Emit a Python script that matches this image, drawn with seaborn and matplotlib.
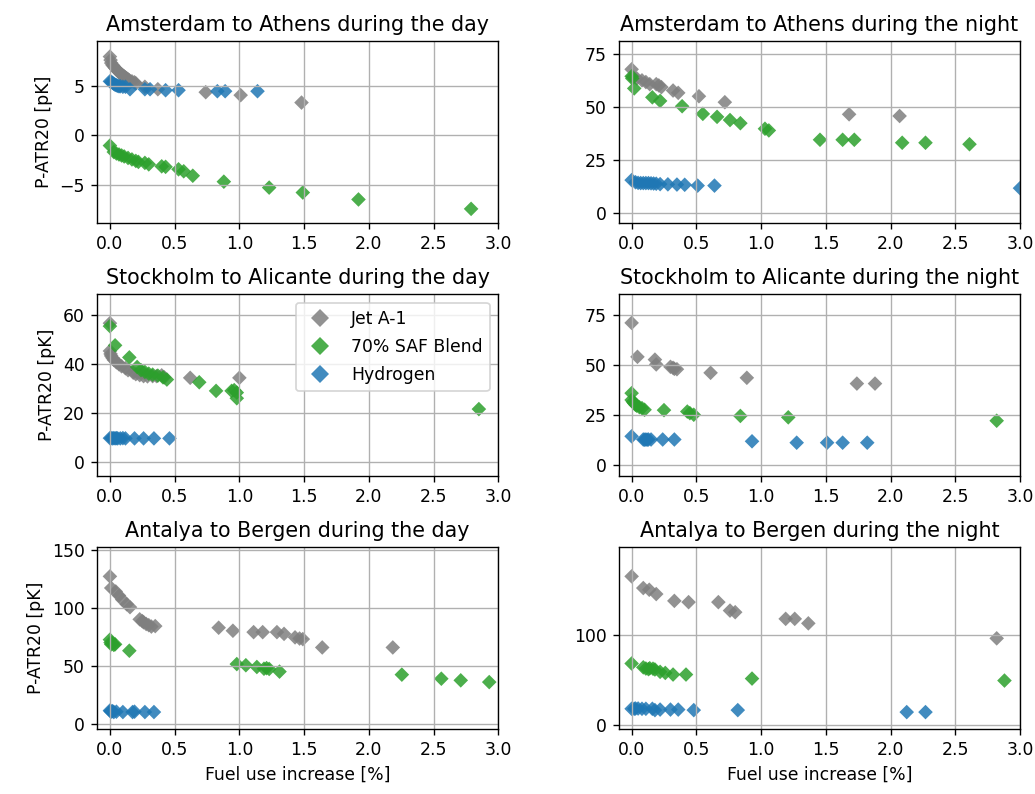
import numpy as np
import pandas as pd
import matplotlib
matplotlib.use("Agg")
import matplotlib.pyplot as plt
import seaborn as sns

fuels = ["Jet A-1", "70% SAF Blend", "Hydrogen"]
titles = [
    "Amsterdam to Athens during the day",
    "Amsterdam to Athens during the night",
    "Stockholm to Alicante during the day",
    "Stockholm to Alicante during the night",
    "Antalya to Bergen during the day",
    "Antalya to Bergen during the night",
]

# ---- Amsterdam to Athens, day ----
ams_day_jet_x = [0.00, 0.005, 0.01, 0.02, 0.03, 0.04, 0.05, 0.06, 0.07, 0.08, 0.09, 0.10, 0.11, 0.12, 0.13, 0.14, 0.15, 0.17, 0.19, 0.20, 0.27, 0.37, 0.74, 1.01, 1.48]
ams_day_jet_y = [7.95, 7.6, 7.3, 7.1, 6.95, 6.8, 6.65, 6.5, 6.4, 6.25, 6.15, 6.05, 5.95, 5.85, 5.75, 5.65, 5.55, 5.45, 5.35, 5.25, 4.9, 4.65, 4.35, 4.05, 3.3]
ams_day_saf_x = [0.00, 0.03, 0.05, 0.07, 0.09, 0.11, 0.14, 0.17, 0.20, 0.22, 0.27, 0.30, 0.40, 0.43, 0.53, 0.57, 0.64, 0.88, 1.23, 1.49, 1.92, 2.79]
ams_day_saf_y = [-1.05, -1.7, -1.85, -1.95, -2.05, -2.15, -2.3, -2.45, -2.6, -2.7, -2.8, -2.95, -3.15, -3.2, -3.45, -3.65, -4.1, -4.7, -5.3, -5.8, -6.5, -7.45]
ams_day_h2_x = [0.00, 0.01, 0.02, 0.03, 0.04, 0.05, 0.06, 0.07, 0.08, 0.10, 0.12, 0.155, 0.27, 0.31, 0.43, 0.53, 0.83, 0.89, 1.14]
ams_day_h2_y = [5.45, 5.4, 5.3, 5.2, 5.1, 5.05, 5.0, 4.95, 4.95, 4.9, 4.9, 4.65, 4.65, 4.65, 4.55, 4.55, 4.45, 4.45, 4.45]

# ---- Amsterdam to Athens, night ----
ams_night_jet_x = [0.00, 0.01, 0.04, 0.08, 0.11, 0.14, 0.19, 0.21, 0.23, 0.32, 0.36, 0.52, 0.72, 1.68, 2.07]
ams_night_jet_y = [67.8, 64.5, 63.5, 62.6, 61.8, 60.8, 60.8, 60.2, 59.4, 57.8, 56.7, 55.1, 52.3, 46.6, 45.8]
ams_night_saf_x = [0.00, 0.005, 0.02, 0.16, 0.22, 0.39, 0.55, 0.66, 0.76, 0.84, 1.03, 1.06, 1.455, 1.63, 1.72, 2.09, 2.27, 2.61]
ams_night_saf_y = [64.5, 63.5, 58.8, 54.6, 52.9, 50.4, 46.8, 45.4, 43.9, 42.4, 39.8, 39.0, 34.6, 34.6, 34.6, 33.2, 33.2, 32.5]
ams_night_h2_x = [0.00, 0.03, 0.05, 0.07, 0.09, 0.11, 0.13, 0.15, 0.17, 0.19, 0.22, 0.28, 0.35, 0.41, 0.51, 0.64, 3.00]
ams_night_h2_y = [15.6, 14.6, 14.3, 14.2, 14.2, 14.2, 14.2, 14.1, 14.0, 13.9, 13.7, 13.6, 13.5, 13.4, 13.0, 13.0, 11.8]

# ---- Stockholm to Alicante, day ----
sto_day_jet_x = [0.00, 0.00, 0.005, 0.01, 0.02, 0.03, 0.05, 0.07, 0.09, 0.12, 0.14, 0.18, 0.20, 0.23, 0.26, 0.29, 0.33, 0.36, 0.40, 0.42, 0.62, 1.00]
sto_day_jet_y = [56.5, 45.2, 44.0, 43.2, 42.4, 41.6, 40.6, 39.8, 39.0, 38.2, 37.4, 36.4, 35.8, 35.4, 35.0, 34.9, 35.0, 35.0, 35.3, 34.5, 34.3, 34.3]
sto_day_saf_x = [0.00, 0.04, 0.15, 0.21, 0.24, 0.27, 0.30, 0.33, 0.37, 0.41, 0.44, 0.69, 0.82, 0.94, 0.96, 0.98, 0.98, 2.85]
sto_day_saf_y = [55.3, 47.5, 42.6, 38.7, 37.4, 36.7, 36.0, 35.6, 35.2, 34.5, 33.6, 32.5, 29.0, 29.0, 29.3, 28.3, 26.0, 21.6]
sto_day_h2_x = [0.00, 0.01, 0.02, 0.03, 0.04, 0.05, 0.06, 0.08, 0.10, 0.12, 0.19, 0.26, 0.34, 0.46]
sto_day_h2_y = [9.8, 9.8, 9.7, 9.8, 9.7, 9.8, 9.7, 9.7, 9.8, 9.7, 9.7, 9.7, 9.7, 9.7]

# ---- Stockholm to Alicante, night ----
sto_night_jet_x = [0.00, 0.045, 0.18, 0.19, 0.30, 0.32, 0.33, 0.35, 0.61, 0.89, 1.74, 1.88]
sto_night_jet_y = [71.0, 54.0, 52.6, 50.2, 49.0, 48.5, 48.0, 47.8, 46.0, 43.5, 40.6, 40.6]
sto_night_saf_x = [0.00, 0.00, 0.01, 0.02, 0.03, 0.04, 0.06, 0.08, 0.10, 0.25, 0.43, 0.45, 0.48, 0.84, 1.21, 2.82]
sto_night_saf_y = [35.8, 32.4, 31.5, 30.7, 30.0, 29.5, 28.8, 28.3, 27.5, 27.3, 26.6, 25.8, 25.0, 24.4, 23.7, 22.0]
sto_night_h2_x = [0.00, 0.09, 0.10, 0.11, 0.12, 0.13, 0.15, 0.24, 0.33, 0.93, 1.275, 1.51, 1.63, 1.82]
sto_night_h2_y = [14.2, 12.6, 12.5, 12.6, 12.5, 12.6, 12.6, 12.6, 12.6, 11.7, 11.0, 11.0, 11.0, 11.0]

# ---- Antalya to Bergen, day ----
ant_day_jet_x = [0.00, 0.01, 0.045, 0.07, 0.095, 0.13, 0.155, 0.23, 0.25, 0.26, 0.28, 0.30, 0.32, 0.35, 0.84, 0.95, 1.11, 1.18, 1.29, 1.345, 1.43, 1.465, 1.49, 1.64, 2.185]
ant_day_jet_y = [127, 117, 114, 110.5, 107, 103, 100.5, 90, 88.5, 87.5, 86, 85, 83.8, 84.2, 82.8, 80.2, 79, 79, 79, 77.5, 74.5, 73.5, 73, 65.8, 65.8]
ant_day_saf_x = [0.00, 0.005, 0.01, 0.02, 0.03, 0.04, 0.15, 0.98, 1.05, 1.135, 1.19, 1.21, 1.23, 1.31, 2.255, 2.56, 2.71, 2.93]
ant_day_saf_y = [72.5, 70.0, 68.5, 69.5, 68.0, 68.5, 63.0, 51.5, 50.5, 49.0, 47.5, 48.0, 47.3, 45.0, 42.4, 38.9, 37.5, 36.0]
ant_day_h2_x = [0.00, 0.005, 0.01, 0.02, 0.03, 0.05, 0.10, 0.175, 0.19, 0.27, 0.34]
ant_day_h2_y = [11.5, 11.0, 10.5, 11.0, 10.2, 10.5, 10.2, 10.2, 10.5, 10.2, 10.2]

# ---- Antalya to Bergen, night ----
ant_night_jet_x = [0.00, 0.09, 0.136, 0.19, 0.33, 0.44, 0.67, 0.76, 0.80, 1.19, 1.26, 1.365, 2.82]
ant_night_jet_y = [165.3, 152.3, 150.4, 145.6, 138.0, 136.6, 136.6, 127.2, 125.4, 118.0, 118.0, 113.0, 96.3]
ant_night_saf_x = [0.00, 0.09, 0.11, 0.13, 0.14, 0.165, 0.18, 0.22, 0.26, 0.32, 0.42, 0.93, 2.88]
ant_night_saf_y = [68.3, 64.0, 62.7, 62.0, 63.0, 62.5, 61.6, 59.0, 57.8, 56.0, 56.0, 51.5, 49.3]
ant_night_h2_x = [0.00, 0.02, 0.03, 0.05, 0.08, 0.11, 0.16, 0.18, 0.22, 0.30, 0.36, 0.48, 0.82, 2.125, 2.27]
ant_night_h2_y = [17.9, 17.9, 18.2, 18.2, 17.9, 17.9, 17.9, 16.4, 17.0, 17.0, 17.0, 16.4, 16.4, 14.2, 14.2]

panel_series = [
    [(ams_day_jet_x, ams_day_jet_y), (ams_day_saf_x, ams_day_saf_y), (ams_day_h2_x, ams_day_h2_y)],
    [(ams_night_jet_x, ams_night_jet_y), (ams_night_saf_x, ams_night_saf_y), (ams_night_h2_x, ams_night_h2_y)],
    [(sto_day_jet_x, sto_day_jet_y), (sto_day_saf_x, sto_day_saf_y), (sto_day_h2_x, sto_day_h2_y)],
    [(sto_night_jet_x, sto_night_jet_y), (sto_night_saf_x, sto_night_saf_y), (sto_night_h2_x, sto_night_h2_y)],
    [(ant_day_jet_x, ant_day_jet_y), (ant_day_saf_x, ant_day_saf_y), (ant_day_h2_x, ant_day_h2_y)],
    [(ant_night_jet_x, ant_night_jet_y), (ant_night_saf_x, ant_night_saf_y), (ant_night_h2_x, ant_night_h2_y)],
]

x_ticks = [0.0, 0.5, 1.0, 1.5, 2.0, 2.5, 3.0]
y_ticks = [[-5, 0, 5], [0, 25, 50, 75], [0, 20, 40, 60], [0, 25, 50, 75], [0, 50, 100, 150], [0, 100]]
ylims = [(-8.9, 9.5), (-4.7, 81), (-5.6, 68.3), (-5.7, 85.4), (-4.3, 152.3), (-4.5, 198)]

rows = []
for title, series in zip(titles, panel_series):
    for fuel, (xs, ys) in zip(fuels, series):
        for xv, yv in zip(xs, ys):
            rows.append({"panel": title, "fuel": fuel, "x": xv, "y": yv})
df = pd.DataFrame(rows)

palette = {"Jet A-1": "tab:gray", "70% SAF Blend": "tab:green", "Hydrogen": "tab:blue"}

DPI = 124
fig, axes = plt.subplots(3, 2, figsize=(1035 / DPI, 794 / DPI), dpi=DPI)
fig.subplots_adjust(left=0.0937, right=0.9855, top=0.948, bottom=0.082, wspace=0.3, hspace=0.39)

for i, (ax, title, ylim, yt) in enumerate(zip(axes.flat, titles, ylims, y_ticks)):
    sub = df[df["panel"] == title]
    sns.scatterplot(data=sub, x="x", y="y", hue="fuel", hue_order=fuels, palette=palette,
                    marker="D", s=36, linewidth=0, alpha=0.85, ax=ax, legend=(i == 2))
    ax.set_xlim(-0.1, 3.0)
    ax.set_ylim(*ylim)
    ax.set_xticks(x_ticks)
    ax.set_yticks(yt)
    ax.grid(True)
    ax.set_title(title)
    ax.set_xlabel("Fuel use increase [%]" if i >= 4 else "")
    ax.set_ylabel("P-ATR20 [pK]" if i % 2 == 0 else "")
    if i == 2:
        ax.legend(loc="upper right", title=None, markerscale=1.2, labelspacing=0.6)

fig.savefig("out.png", dpi=DPI)
